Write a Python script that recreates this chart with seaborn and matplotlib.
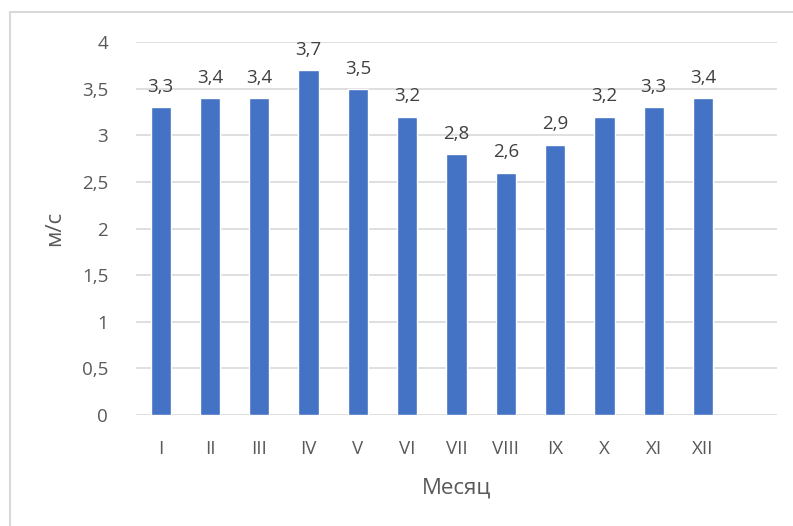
import matplotlib
matplotlib.use("Agg")
import matplotlib.pyplot as plt
import seaborn as sns
import pandas as pd
from matplotlib.lines import Line2D

months = ["I", "II", "III", "IV", "V", "VI", "VII", "VIII", "IX", "X", "XI", "XII"]
speeds = [3.3, 3.4, 3.4, 3.7, 3.5, 3.2, 2.8, 2.6, 2.9, 3.2, 3.3, 3.4]
yticks = [0, 0.5, 1, 1.5, 2, 2.5, 3, 3.5, 4]

sns.set_theme(style="white")
plt.rcParams['font.family'] = ['Open Sans', 'DejaVu Sans']

df = pd.DataFrame({"month": months, "speed": speeds})

fig = plt.figure(figsize=(7.93, 5.26), dpi=100)
ax = fig.add_axes([136/793, 1 - 415/526, (777 - 136)/793, (415 - 42)/526])

sns.barplot(data=df, x="month", y="speed", color="#4472C4", width=0.41,
            saturation=1, ax=ax, order=months)

ax.set_xlim(-0.5, 12.5)
ax.set_ylim(0, 4)
ax.set_yticks(yticks)
ax.set_yticklabels([f"{v:g}".replace(".", ",") for v in yticks])
ax.yaxis.grid(True, color="#d9d9d9", linewidth=1.2)
ax.set_axisbelow(True)
for s in ax.spines.values():
    s.set_visible(False)
ax.tick_params(axis="both", length=0, colors="#595959", labelsize=13.5)
ax.tick_params(axis="y", pad=20)
ax.tick_params(axis="x", pad=18)

for i, v in enumerate(speeds):
    ax.annotate(f"{v:.1f}".replace(".", ","), (i, v), xytext=(0, 8),
                textcoords="offset points", ha="center", va="bottom",
                fontsize=13.5, color="#404040")

ax.set_xlabel("Месяц", fontsize=16, color="#595959", labelpad=14)
ax.set_ylabel("м/с", fontsize=16, color="#595959", labelpad=12)

fig.add_artist(Line2D([10/793, 10/793], [0, 1 - 12/526], color="#d9d9d9", lw=1.5, transform=fig.transFigure))
fig.add_artist(Line2D([10/793, 1], [1 - 12/526, 1 - 12/526], color="#d9d9d9", lw=1.5, transform=fig.transFigure))

fig.savefig("out.png", dpi=100)
